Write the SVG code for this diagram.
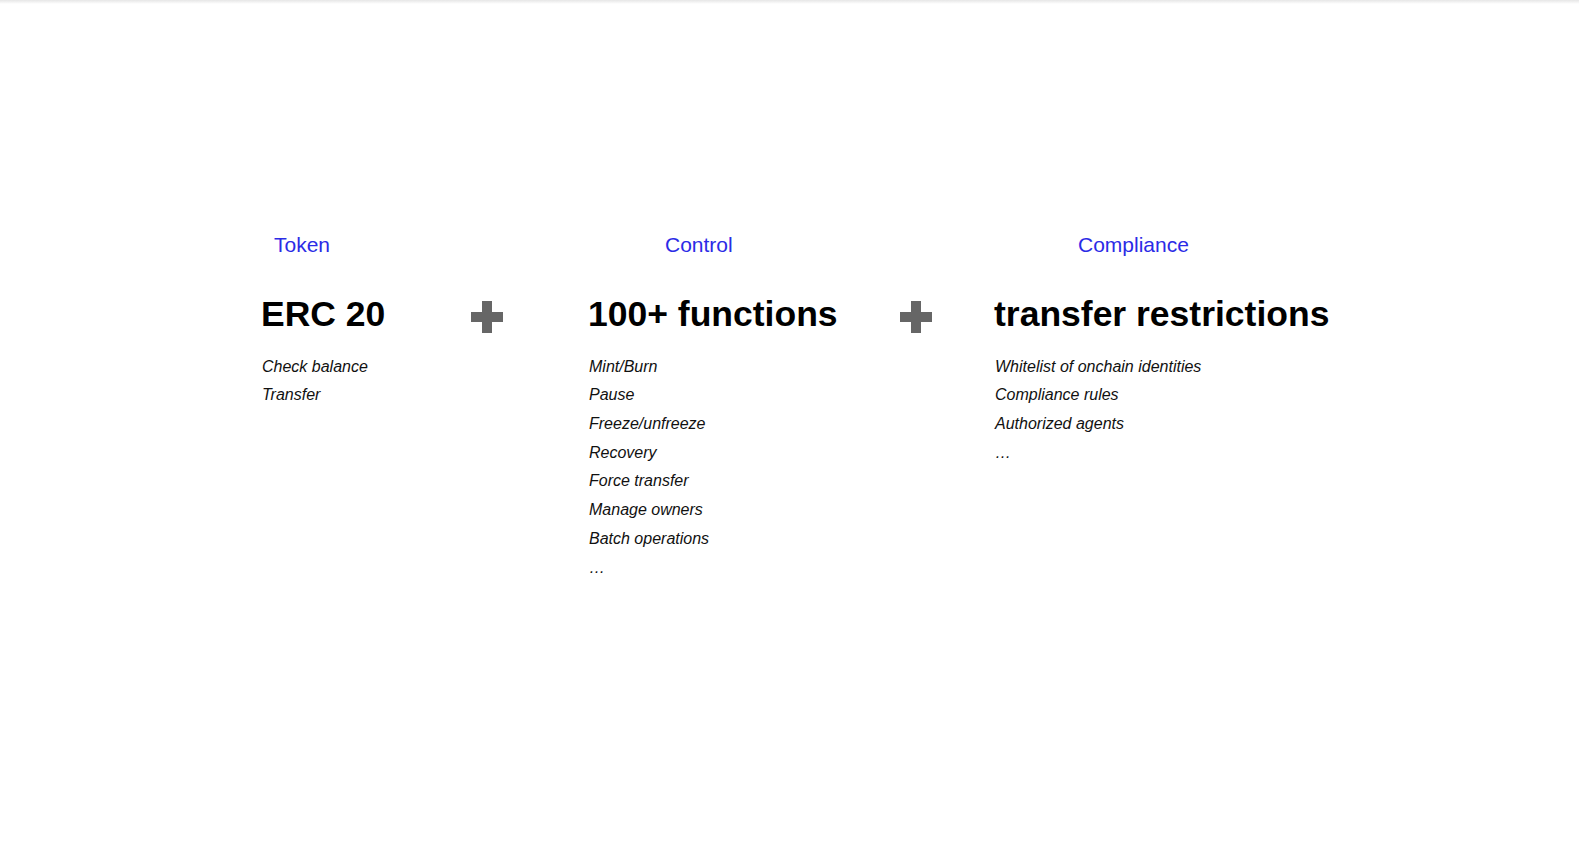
<svg xmlns="http://www.w3.org/2000/svg" width="1579" height="853" viewBox="0 0 1579 853">
<defs>
<linearGradient id="topshade" x1="0" y1="0" x2="0" y2="1">
<stop offset="0" stop-color="#e6e6e6"/>
<stop offset="1" stop-color="#ffffff"/>
</linearGradient>
<style>
.cat{font-family:"Liberation Sans",Arial,sans-serif;font-size:21px;fill:#2b2be6}
.head{font-family:"Liberation Sans",Arial,sans-serif;font-size:35.5px;font-weight:bold;fill:#000}
.item{font-family:"Liberation Sans",Arial,sans-serif;font-size:16px;font-style:italic;fill:#111}
.plus{fill:#666}
</style>
</defs>
<rect width="1579" height="853" fill="#fff"/>
<rect width="1579" height="4" fill="url(#topshade)"/>
<g id="token">
<text class="cat" x="274" y="252">Token</text>
<text class="head" x="261" y="326">ERC 20</text>
<text class="item" x="262" y="372">Check balance</text>
<text class="item" x="262" y="400">Transfer</text>
</g>
<g id="plus1" class="plus">
<rect x="471" y="312" width="32" height="10"/>
<rect x="482" y="301" width="10" height="32"/>
</g>
<g id="control">
<text class="cat" x="665" y="252">Control</text>
<text class="head" x="588" y="326">100+ functions</text>
<text class="item" x="589" y="372">Mint/Burn</text>
<text class="item" x="589" y="400">Pause</text>
<text class="item" x="589" y="429">Freeze/unfreeze</text>
<text class="item" x="589" y="458">Recovery</text>
<text class="item" x="589" y="486">Force transfer</text>
<text class="item" x="589" y="515">Manage owners</text>
<text class="item" x="589" y="544">Batch operations</text>
<text class="item" x="589" y="573">…</text>
</g>
<g id="plus2" class="plus">
<rect x="900" y="312" width="32" height="10"/>
<rect x="911" y="301" width="10" height="32"/>
</g>
<g id="compliance">
<text class="cat" x="1078" y="252">Compliance</text>
<text class="head" x="994" y="326">transfer restrictions</text>
<text class="item" x="995" y="372">Whitelist of onchain identities</text>
<text class="item" x="995" y="400">Compliance rules</text>
<text class="item" x="995" y="429">Authorized agents</text>
<text class="item" x="995" y="458">…</text>
</g>
<g id="connectors"/>
</svg>
